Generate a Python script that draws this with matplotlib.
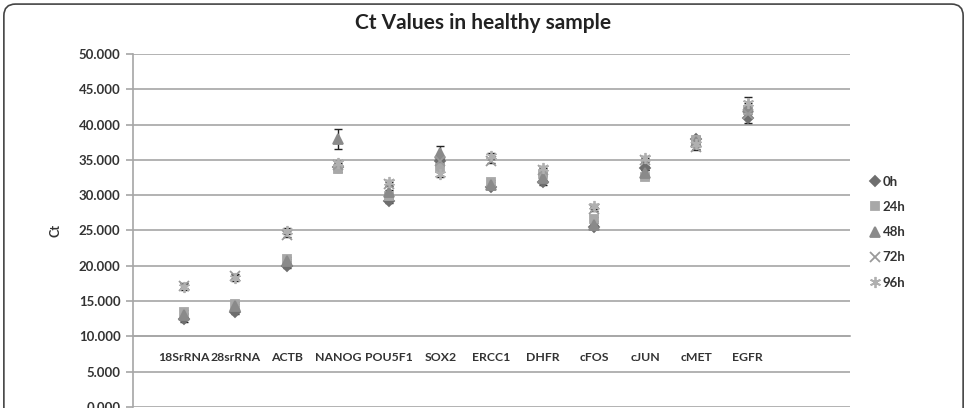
import matplotlib
matplotlib.use("Agg")
import matplotlib.pyplot as plt
import matplotlib.ticker as mtick
from matplotlib.patches import FancyBboxPatch
import numpy as np

genes = ["18SrRNA", "28srRNA", "ACTB", "NANOG", "POU5F1", "SOX2",
         "ERCC1", "DHFR", "cFOS", "cJUN", "cMET", "EGFR"]

ct_0h = [12.4, 13.5, 20.0, 34.0, 29.2, 34.8, 31.2, 31.8, 25.5, 33.8, 38.0, 41.0]
ct_24h = [13.5, 14.6, 21.0, 33.7, 29.9, 33.8, 31.8, 33.0, 26.6, 32.6, 37.8, 42.0]
ct_48h = [13.0, 14.3, 20.7, 38.0, 30.5, 36.0, 31.5, 32.5, 25.8, 33.2, 37.5, 42.5]
ct_72h = [17.2, 18.5, 24.4, 34.3, 31.6, 34.8, 34.8, 33.5, 28.0, 35.0, 36.8, 41.5]
ct_96h = [17.0, 18.3, 24.9, 34.5, 31.8, 33.0, 35.6, 33.9, 28.4, 35.3, 37.2, 43.0]

err_0h = [0.3, 0.3, 0.3, 0.3, 0.3, 0.4, 0.3, 0.3, 0.3, 0.3, 0.4, 0.8]
err_24h = [0.3, 0.3, 0.3, 0.4, 0.3, 0.4, 0.3, 0.3, 0.3, 0.3, 0.4, 0.5]
err_48h = [0.3, 0.3, 0.3, 1.4, 0.3, 1.0, 0.3, 0.3, 0.3, 0.3, 0.4, 0.6]
err_72h = [0.3, 0.3, 0.3, 0.3, 0.3, 0.3, 0.3, 0.3, 0.3, 0.3, 0.4, 0.5]
err_96h = [0.4, 0.4, 0.4, 0.3, 0.3, 0.4, 0.4, 0.3, 0.4, 0.3, 0.6, 0.9]

series = [
    ("0h", ct_0h, err_0h, "D", "#6e6e6e", 5),
    ("24h", ct_24h, err_24h, "s", "#a8a8a8", 6),
    ("48h", ct_48h, err_48h, "^", "#8a8a8a", 7),
    ("72h", ct_72h, err_72h, "x", "#9a9a9a", 7),
    ("96h", ct_96h, err_96h, (6, 2, 0), "#b0b0b0", 8),
]

plt.rcParams["font.family"] = ["Lato", "DejaVu Sans"]

fig = plt.figure(figsize=(9.67, 4.08), dpi=100)
ax = fig.add_axes([0.1375, 0.00245, 0.7415, 0.8652])

x = np.arange(1, len(genes) + 1)
for name, vals, err, mk, col, ms in series:
    ax.errorbar(x, vals, yerr=err, fmt="none", ecolor="#222222",
                elinewidth=1, capsize=3, capthick=1, zorder=3)
    ax.plot(x, vals, linestyle="none", marker=mk, color=col,
            markersize=ms, markeredgewidth=1.3, label=name, zorder=4)

ax.set_xlim(0, 14)
ax.set_ylim(0, 50)
ax.set_yticks(np.arange(0, 51, 5))
ax.yaxis.set_major_formatter(mtick.FormatStrFormatter("%.3f"))
ax.set_xticks(x)
ax.set_xticklabels(genes)
ax.grid(axis="y", color="#a6a6a6", linewidth=1.2)
ax.set_axisbelow(True)

for s in ["top", "right"]:
    ax.spines[s].set_visible(False)
ax.spines["left"].set_color("#a6a6a6")
ax.spines["left"].set_linewidth(1.2)
ax.spines["bottom"].set_position(("data", 10))
ax.spines["bottom"].set_color("#a6a6a6")
ax.spines["bottom"].set_linewidth(1.2)

ax.tick_params(axis="y", length=5, color="#a6a6a6", width=1.2,
               labelsize=9.5, labelcolor="#333333", pad=4)
ax.tick_params(axis="x", length=0, labelsize=8.8, labelcolor="#333333", pad=11)
for lbl in ax.get_xticklabels() + ax.get_yticklabels():
    lbl.set_fontweight("bold")

ax.set_ylabel("Ct", fontsize=9, fontweight="bold", color="#333333", labelpad=12)

fig.text(0.5, 0.943, "Ct Values in healthy sample", ha="center", va="center",
         fontsize=15, fontweight="bold", color="#222222")

leg = ax.legend(loc="center left", bbox_to_anchor=(1.018, 0.495), frameon=False,
                fontsize=9.5, handletextpad=0.1, labelspacing=1.0,
                handlelength=1.0, borderaxespad=0)
for t in leg.get_texts():
    t.set_fontweight("bold")
    t.set_color("#333333")

frame = FancyBboxPatch((0.004, -0.05), 0.992, 1.04, boxstyle="round,pad=0,rounding_size=0.012",
                       transform=fig.transFigure, fill=False, edgecolor="#444444",
                       linewidth=1.2, mutation_aspect=967 / 408)
fig.patches.append(frame)

fig.savefig("out.png", dpi=100)
